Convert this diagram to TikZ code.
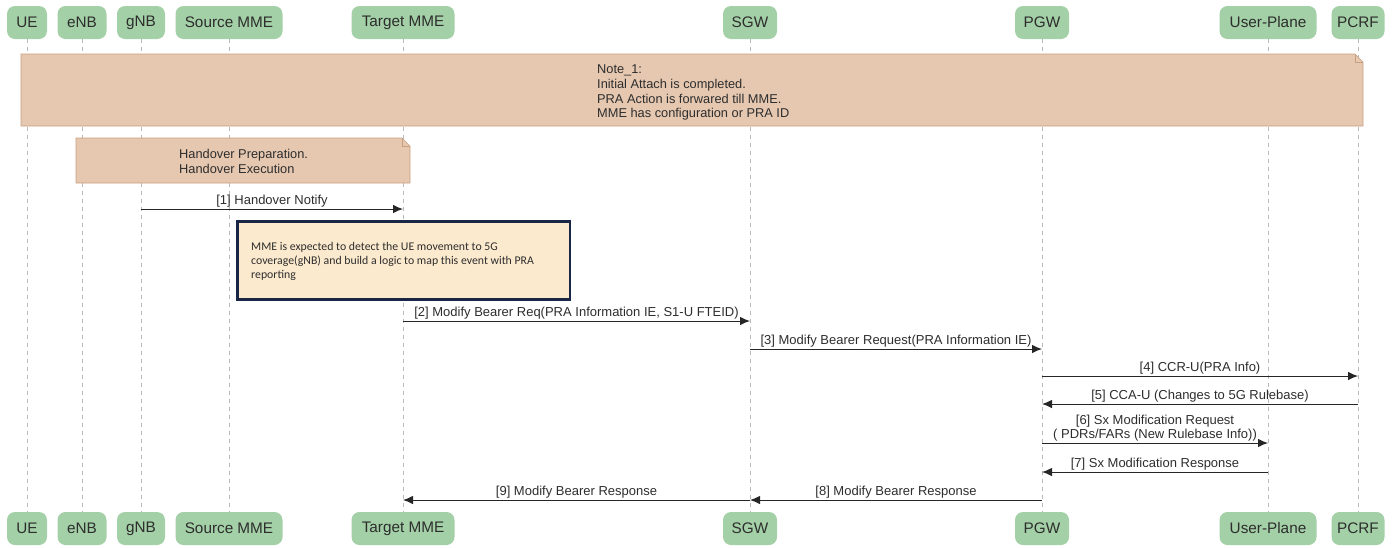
\documentclass[tikz,border=0pt]{standalone}
\usepackage{fontspec}
\setmainfont{Liberation Sans}
\newfontfamily\carl{Carlito}
\usetikzlibrary{arrows.meta}
\definecolor{boxgreen}{RGB}{163,208,166}
\definecolor{txt}{RGB}{45,45,45}
\definecolor{notefill}{RGB}{230,200,177}
\definecolor{notedraw}{RGB}{200,160,128}
\definecolor{navy}{RGB}{25,38,70}
\definecolor{peach}{RGB}{252,234,206}
\definecolor{life}{RGB}{185,185,185}
\begin{document}
\begin{tikzpicture}[x=1pt,y=-1pt,
  actor/.style={fill=boxgreen, rounded corners=8pt, text=txt, font=\fontsize{15.3}{17}\selectfont, minimum height=33pt, inner sep=0pt},
  lifeline/.style={draw=life, dash pattern=on 4pt off 4pt, line width=0.7pt},
  msg/.style={draw=black!85, line width=1pt, -{Latex[length=10pt,width=8.5pt]}},
  lbl/.style={font=\fontsize{13}{14.5}\selectfont, text=txt, inner sep=1.2pt, above},
  notebox/.style={draw=notedraw, fill=notefill, line width=0.6pt},
  notetext/.style={font=\fontsize{12.8}{14.8}\selectfont, text=txt, align=left, inner sep=0pt, anchor=north west},
]
\useasboundingbox (0,0) rectangle (1398,547);
% actors top
\node[actor, minimum width=40pt]  (UEt) at (27,22.5) {UE};
\node[actor, minimum width=49pt]  (eNBt) at (82,22.5) {eNB};
\node[actor, minimum width=48pt]  (gNBt) at (141,22.5) {gNB};
\node[actor, minimum width=107pt] (SMt) at (229,22.5) {Source MME};
\node[actor, minimum width=103pt] (TMt) at (403,22.5) {Target MME};
\node[actor, minimum width=54pt]  (SGWt) at (750,22.5) {SGW};
\node[actor, minimum width=54pt]  (PGWt) at (1042,22.5) {PGW};
\node[actor, minimum width=97pt]  (UPt) at (1268,22.5) {User-Plane};
\node[actor, minimum width=53pt]  (PCRFt) at (1358,22.5) {PCRF};
% actors bottom
\node[actor, minimum width=40pt]  (UEb) at (27,528.5) {UE};
\node[actor, minimum width=49pt]  (eNBb) at (82,528.5) {eNB};
\node[actor, minimum width=48pt]  (gNBb) at (141,528.5) {gNB};
\node[actor, minimum width=107pt] (SMb) at (229,528.5) {Source MME};
\node[actor, minimum width=103pt] (TMb) at (403,528.5) {Target MME};
\node[actor, minimum width=54pt]  (SGWb) at (750,528.5) {SGW};
\node[actor, minimum width=54pt]  (PGWb) at (1042,528.5) {PGW};
\node[actor, minimum width=97pt]  (UPb) at (1268,528.5) {User-Plane};
\node[actor, minimum width=53pt]  (PCRFb) at (1358,528.5) {PCRF};
% lifelines
\foreach \n in {UE,eNB,gNB,SM,TM,SGW,PGW,UP,PCRF}
  \draw[lifeline] (\n t.south) -- (\n b.north);
% Note_1
\draw[notebox] (21,54) -- (1355,54) -- (1363,62) -- (1363,126) -- (21,126) -- cycle;
\draw[notebox, fill=none] (1355,54) -- (1355,62) -- (1363,62);
\node[notetext] (note1) at (597,64.5) {Note\_1:\\Initial Attach is completed.\\PRA Action is forwared till MME.\\MME has configuration or PRA ID};
% Handover note
\draw[notebox] (76,138) -- (402,138) -- (410,146) -- (410,183) -- (76,183) -- cycle;
\draw[notebox, fill=none] (402,138) -- (402,146) -- (410,146);
\node[notetext] (hnote) at (179,149) {Handover Preparation.\\Handover Execution};
% [1]
\coordinate (a1) at (141,209); \coordinate (b1) at (403,209);
\draw[msg] (a1) -- node[lbl] {[1] Handover Notify} (b1);
% blue box
\draw[draw=navy, line width=2.8pt, fill=peach] (237.5,221.5) rectangle (570,299.5);
\node[anchor=north west, inner sep=0pt, align=left, text=txt, font=\carl\fontsize{11.8}{13.8}\selectfont] (mmenote) at (251,242) {MME is expected to detect the UE movement to 5G\\coverage(gNB) and build a logic to map this event with PRA\\reporting};
% [2]
\coordinate (a2) at (403,321); \coordinate (b2) at (750,321);
\draw[msg] (a2) -- node[lbl] {[2] Modify Bearer Req(PRA Information IE, S1-U FTEID)} (b2);
% [3]
\coordinate (a3) at (750,349); \coordinate (b3) at (1042,349);
\draw[msg] (a3) -- node[lbl] {[3] Modify Bearer Request(PRA Information IE)} (b3);
% [4]
\coordinate (a4) at (1042,376); \coordinate (b4) at (1358,376);
\draw[msg] (a4) -- node[lbl] {[4] CCR-U(PRA Info)} (b4);
% [5]
\coordinate (a5) at (1358,404); \coordinate (b5) at (1042,404);
\draw[msg] (a5) -- node[lbl] {[5] CCA-U (Changes to 5G Rulebase)} (b5);
% [6]
\coordinate (a6) at (1042,443); \coordinate (b6) at (1268,443);
\draw[msg] (a6) -- node[lbl, align=center, font=\fontsize{13}{14}\selectfont] {[6] Sx Modification Request\\( PDRs/FARs (New Rulebase Info))} (b6);
% [7]
\coordinate (a7) at (1268,472); \coordinate (b7) at (1042,472);
\draw[msg] (a7) -- node[lbl] {[7] Sx Modification Response} (b7);
% [8]
\coordinate (a8) at (1042,500); \coordinate (b8) at (750,500);
\draw[msg] (a8) -- node[lbl] {[8] Modify Bearer Response} (b8);
% [9]
\coordinate (a9) at (750,500); \coordinate (b9) at (403,500);
\draw[msg] (a9) -- node[lbl] {[9] Modify Bearer Response} (b9);
\end{tikzpicture}
\end{document}
